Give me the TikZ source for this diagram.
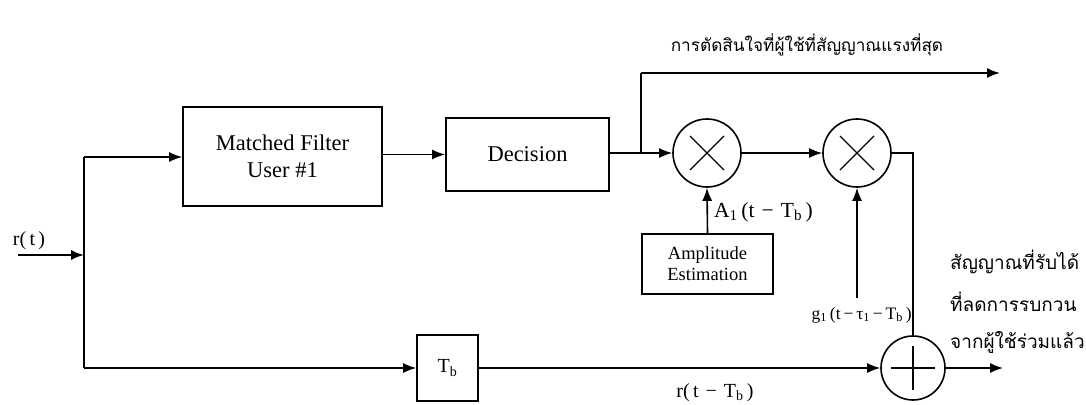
\documentclass[tikz,border=0pt]{standalone}
\usepackage{fontspec}
\setmainfont{Liberation Serif}
\newfontfamily\thaifont[Script=Thai]{Loma}
\usetikzlibrary{arrows.meta}
\tikzset{
  wire/.style={line width=1.6pt},
  arr/.style={wire,-{Latex[length=13pt,width=10pt]}},
  blk/.style={draw,line width=1.6pt,minimum width=#1,inner sep=0pt,align=center},
  mulnode/.style={draw,circle,line width=1.6pt,minimum size=68pt,inner sep=0pt,
    path picture={\draw[line width=1.3pt] ([shift={(-17pt,17pt)}]path picture bounding box.center) -- ([shift={(17pt,-17pt)}]path picture bounding box.center)
      ([shift={(-17pt,-17pt)}]path picture bounding box.center) -- ([shift={(17pt,17pt)}]path picture bounding box.center);}},
  addnode/.style={draw,circle,line width=1.6pt,minimum size=64pt,inner sep=0pt,
    path picture={\draw[line width=1.3pt] ([xshift=-22pt]path picture bounding box.center) -- ([xshift=22pt]path picture bounding box.center)
      ([yshift=-22pt]path picture bounding box.center) -- ([yshift=22pt]path picture bounding box.center);}},
  lbl/.style={inner sep=0pt,font=\fontsize{20}{22}\selectfont},
  thai/.style={inner sep=0pt,font=\thaifont\fontsize{19}{22}\selectfont}
}
\begin{document}
\begin{tikzpicture}[x=1pt,y=-1pt]
\useasboundingbox (0,0) rectangle (1086,404);
% blocks
\node[blk=199pt,minimum height=99pt,font=\fontsize{22.5}{27}\selectfont] (mf) at (282.5,156.5) {Matched Filter\\User \#1};
\node[blk=163pt,minimum height=73pt,font=\fontsize{22.5}{27}\selectfont] (dec) at (527.5,154.5) {Decision};
\node[mulnode] (m1) at (707,153) {};
\node[mulnode] (m2) at (857,153) {};
\node[blk=131pt,minimum height=60pt,font=\fontsize{18.5}{21}\selectfont] (amp) at (707.5,264) {Amplitude\\Estimation};
\node[blk=61pt,minimum height=66pt,font=\fontsize{20}{22}\selectfont] (tb) at (447.5,368) {T\textsubscript{b}};
\node[addnode] (add) at (913,368) {};
% coordinates
\coordinate (in) at (18,255);
\coordinate (j) at (84,255);
\coordinate (jt) at (84,157);
\coordinate (jb) at (84,368);
\coordinate (br) at (641,154);
\coordinate (brt) at (641,73);
\coordinate (outt) at (1000,73);
\coordinate (gsrc) at (857,298);
\coordinate (corner) at (913,153);
\coordinate (outr) at (1003,368);
% connectors
\draw[arr] (in) -- (j);
\draw[wire] (jt) -- (jb);
\draw[arr] (jt) -- (mf.west |- jt);
\draw[arr] (jb) -- (tb.west);
\draw[arr] (mf.east |- dec.west) -- (dec.west);
\draw[arr] (dec.east |- m1.west) -- (m1.west);
\draw[wire] (br) -- (brt);
\draw[arr] (brt) -- (outt);
\draw[arr] (m1.east) -- (m2.west);
\draw[arr] (amp.north) -- (m1.south);
\draw[arr] (gsrc) -- (m2.south);
\draw[wire] (m2.east) -- (corner) -- (add.north);
\draw[arr] (tb.east) -- (add.west);
\draw[arr] (add.east) -- (outr);
% labels
\node[lbl] (lr) at (29,241) {r(\,t\,)};
\node[lbl,anchor=west,font=\fontsize{21.5}{23}\selectfont] (la) at (714,212) {A\textsubscript{1}\,(t\,\,−\,\,T\textsubscript{b}\,)};
\node[lbl,anchor=east,font=\fontsize{17.5}{19}\selectfont] (lg) at (912,315) {g\textsubscript{1}\,(t\,−\,τ\textsubscript{1}\,−\,T\textsubscript{b}\,)};
\node[lbl,font=\fontsize{20}{22}\selectfont] (lrt) at (715,393) {r(\,t\hspace{7pt}−\hspace{7pt}T\textsubscript{b}\,)};
\node[thai,font=\thaifont\fontsize{17.2}{20}\selectfont] (title) at (807,45) {การตัดสินใจที่ผู้ใช้ที่สัญญาณแรงที่สุด};
\node[thai,anchor=west] (o1) at (950,262) {สัญญาณที่รับได้};
\node[thai,anchor=west] (o2) at (950,302) {ที่ลดการรบกวน};
\node[thai,anchor=west] (o3) at (950,342) {จากผู้ใช้ร่วมแล้ว};
\end{tikzpicture}
\end{document}
